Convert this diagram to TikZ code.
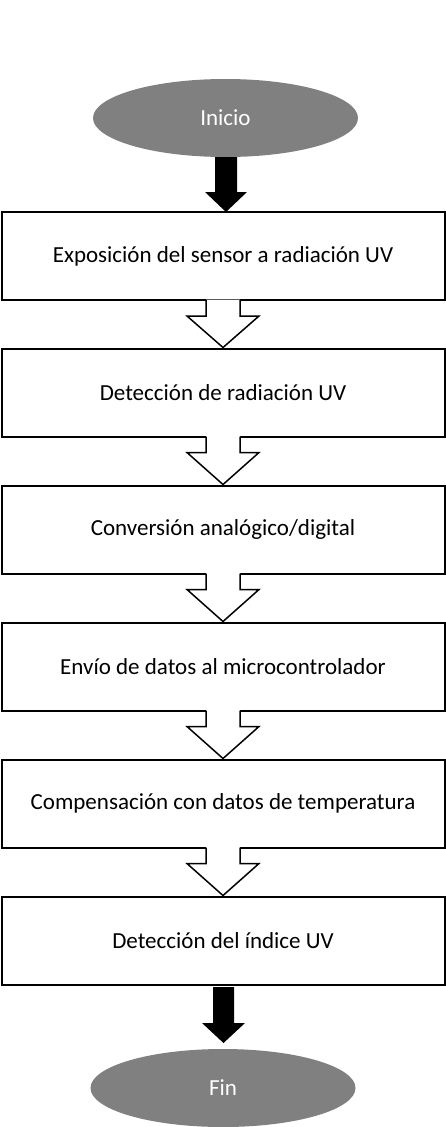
\documentclass[tikz,border=0pt]{standalone}
\usepackage{fontspec}
\setmainfont{Carlito}
\usetikzlibrary{calc,shapes.geometric}
\definecolor{gray50}{HTML}{808080}
\tikzset{
  stepbox/.style={draw, line width=2pt, minimum width=443pt, minimum height=88pt, inner sep=0pt, font=\fontsize{23}{27}\selectfont, fill=white},
  term/.style={ellipse, fill=gray50, minimum width=265pt, minimum height=78pt, inner sep=0pt, text=white, font=\fontsize{23}{27}\selectfont},
  hollow/.style={line width=1.5pt, line join=miter},
}
\newcommand\hollowarrow[2]{%
  \fill[white] ($(#1.south)+(-17,-1.5)$) -- ($(#1.south)+(-17,15)$) -- ($(#1.south)+(-36,15)$) -- (#2.north) -- ($(#1.south)+(36,15)$) -- ($(#1.south)+(17,15)$) -- ($(#1.south)+(17,-1.5)$) -- cycle;
  \draw[hollow] ($(#1.south)+(-17,-1)$) -- ($(#1.south)+(-17,15)$) -- ($(#1.south)+(-36,15)$) -- (#2.north) -- ($(#1.south)+(36,15)$) -- ($(#1.south)+(17,15)$) -- ($(#1.south)+(17,-1)$);}
\begin{document}
\begin{tikzpicture}[x=1pt,y=-1pt]
\useasboundingbox (0,0) rectangle (446,1127);
\node[term] (ini) at (225.5,118) {Inicio};
\node[stepbox] (b1) at (223,256) {Exposición del sensor a radiación UV};
\node[stepbox] (b2) at (223,392.5) {Detección de radiación UV};
\node[stepbox] (b3) at (223,529.5) {Conversión analógico/digital};
\node[stepbox] (b4) at (223,666.5) {Envío de datos al microcontrolador};
\node[stepbox] (b5) at (223,803.5) {Compensación con datos de temperatura};
\node[stepbox] (b6) at (223,940.5) {Detección del índice UV};
\node[term] (fin) at (223,1088) {Fin};
\coordinate (s1) at (226,157);
\coordinate (t1) at (226,212);
\fill ($(s1)+(-11,0)$) -- ($(s1)+(-11,35)$) -- ($(s1)+(-21,35)$) -- (t1) -- ($(s1)+(21,35)$) -- ($(s1)+(11,35)$) -- ($(s1)+(11,0)$) -- cycle;
\hollowarrow{b1}{b2}
\hollowarrow{b2}{b3}
\hollowarrow{b3}{b4}
\hollowarrow{b4}{b5}
\hollowarrow{b5}{b6}
\coordinate (s2) at (223.5,987);
\coordinate (t2) at (223.5,1043);
\fill ($(s2)+(-10.5,0)$) -- ($(s2)+(-10.5,36)$) -- ($(s2)+(-21.5,36)$) -- (t2) -- ($(s2)+(21.5,36)$) -- ($(s2)+(10.5,36)$) -- ($(s2)+(10.5,0)$) -- cycle;
\end{tikzpicture}
\end{document}
